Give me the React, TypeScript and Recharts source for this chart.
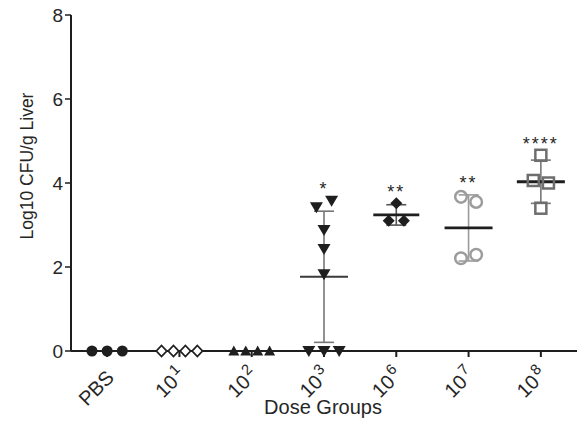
import React from 'react';
import { ComposedChart, Scatter, XAxis, YAxis, ErrorBar } from 'recharts';

const tickLabels = ['PBS', '10^1', '10^2', '10^3', '10^6', '10^7', '10^8'];
const pbsValues = [0, 0, 0];
const dose1Values = [0, 0, 0, 0];
const dose2Values = [0, 0, 0, 0];
const dose3Values = [3.42, 3.58, 2.88, 2.43, 1.83, 0, 0, 0];
const dose6Values = [3.52, 3.1, 3.1];
const dose7Values = [3.67, 3.55, 2.21, 2.29];
const dose8Values = [4.66, 4.06, 4.0, 3.4];
const significance = ['', '', '', '*', '**', '**', '****'];
const yTicks = [0, 2, 4, 6, 8];

const groups = [pbsValues, dose1Values, dose2Values, dose3Values, dose6Values, dose7Values, dose8Values];

const FONT = '"Liberation Sans", Arial, Helvetica, sans-serif';
const INK = '#1e1e1e';

// spread overlapping points horizontally (like GraphPad scatter)
function spread(values: number[]): number[] {
  const offs = new Array(values.length).fill(0);
  const used = new Array(values.length).fill(false);
  for (let i = 0; i < values.length; i++) {
    if (used[i]) continue;
    const members = [i];
    used[i] = true;
    for (let j = i + 1; j < values.length; j++) {
      if (!used[j] && Math.abs(values[j] - values[i]) < 0.3) {
        members.push(j);
        used[j] = true;
      }
    }
    const k = members.length;
    const step = k >= 4 ? 0.165 : 0.21;
    members.forEach((m, idx) => {
      offs[m] = (idx - (k - 1) / 2) * step;
    });
  }
  return offs;
}

function mean(v: number[]) {
  return v.reduce((a, b) => a + b, 0) / v.length;
}
function sd(v: number[]) {
  const m = mean(v);
  return Math.sqrt(v.reduce((a, b) => a + (b - m) * (b - m), 0) / (v.length - 1));
}

const pointData = groups.map((vals, gi) => {
  const offs = spread(vals);
  return vals.map((y, i) => ({ x: gi + offs[i], y }));
});

const summaryData = groups.map((vals, gi) => ({ x: gi, y: mean(vals), sd: sd(vals) }));

const sigData = groups
  .map((vals, gi) => ({
    x: gi,
    y: Math.max(Math.max(...vals), mean(vals) + sd(vals)) + 0.37,
    label: significance[gi],
  }))
  .filter((d) => d.label !== '');

type ShapeProps = { cx?: number; cy?: number };

const markerShapes: ((p: ShapeProps) => React.ReactElement)[] = [
  ({ cx = 0, cy = 0 }) => <circle cx={cx} cy={cy} r={5.5} fill={INK} />,
  ({ cx = 0, cy = 0 }) => (
    <polygon
      points={`${cx},${cy - 5.5} ${cx + 5.2},${cy} ${cx},${cy + 5.5} ${cx - 5.2},${cy}`}
      fill="#fff"
      stroke={INK}
      strokeWidth={1.8}
    />
  ),
  ({ cx = 0, cy = 0 }) => (
    <polygon points={`${cx},${cy - 5.5} ${cx + 5.5},${cy + 4.5} ${cx - 5.5},${cy + 4.5}`} fill={INK} />
  ),
  ({ cx = 0, cy = 0 }) => (
    <polygon points={`${cx - 6.5},${cy - 5} ${cx + 6.5},${cy - 5} ${cx},${cy + 6}`} fill={INK} />
  ),
  ({ cx = 0, cy = 0 }) => (
    <polygon
      points={`${cx},${cy - 6} ${cx + 6},${cy} ${cx},${cy + 6} ${cx - 6},${cy}`}
      fill={INK}
    />
  ),
  ({ cx = 0, cy = 0 }) => <circle cx={cx} cy={cy} r={5.8} fill="none" stroke="#9c9c9c" strokeWidth={2.5} />,
  ({ cx = 0, cy = 0 }) => (
    <rect x={cx - 5.5} y={cy - 5.5} width={11} height={11} fill="none" stroke="#6e6e6e" strokeWidth={2.5} />
  ),
];

const errColors = ['#777', '#777', '#777', '#777', '#555', '#9c9c9c', '#777'];
const meanStyles = [
  { c: INK, w: 2.5, hw: 23 },
  { c: INK, w: 2.5, hw: 23 },
  { c: INK, w: 2.5, hw: 23 },
  { c: '#3a3a3a', w: 1.8, hw: 24 },
  { c: INK, w: 2.8, hw: 23 },
  { c: INK, w: 2.8, hw: 24 },
  { c: INK, w: 2.8, hw: 24 },
];

const XTick = (props: any) => {
  const { x, y, payload } = props;
  const label: string = tickLabels[payload.value] ?? '';
  if (label.includes('^')) {
    const [base, exp] = label.split('^');
    return (
      <g transform={`translate(${x - 13},${y + 27}) rotate(-45)`}>
        <text x={0} y={0} dy="0.35em" textAnchor="middle" fontSize={20} fill="#262626" fontFamily={FONT}>
          {base}
        </text>
        <text x={13} y={-1} textAnchor="start" fontSize={15} fill="#262626" fontFamily={FONT}>
          {exp}
        </text>
      </g>
    );
  }
  return (
    <g transform={`translate(${x - 11},${y + 29}) rotate(-45)`}>
      <text x={0} y={0} dy="0.35em" textAnchor="middle" fontSize={20} fill="#262626" fontFamily={FONT}>
        {label}
      </text>
    </g>
  );
};

const YLabel = (props: any) => {
  const vb = props.viewBox || { x: 0, y: 15, width: 71, height: 336 };
  const cx = vb.x + 27;
  const cy = vb.y + vb.height / 2 - 17;
  return (
    <text
      transform={`translate(${cx},${cy}) rotate(-90)`}
      textAnchor="middle"
      dominantBaseline="central"
      fontSize={17.5}
      fill="#262626"
      fontFamily={FONT}
    >
      Log10 CFU/g Liver
    </text>
  );
};

const XLabel = (props: any) => {
  const vb = props.viewBox || { x: 71, y: 351, width: 506, height: 75 };
  return (
    <text x={vb.x + vb.width / 2 - 1} y={vb.y + 63} textAnchor="middle" fontSize={20} fill="#262626" fontFamily={FONT}>
      Dose Groups
    </text>
  );
};

export default function App() {
  return (
    <div style={{ position: 'absolute', left: 0, top: 0, background: '#fff' }}>
      <ComposedChart width={587} height={426} margin={{ top: 15, right: 10, bottom: 0, left: 0 }}>
        <XAxis
          type="number"
          dataKey="x"
          domain={[-0.5, 6.5]}
          ticks={[0, 1, 2, 3, 4, 5, 6]}
          interval={0}
          height={75}
          axisLine={{ stroke: INK, strokeWidth: 2 }}
          tickLine={{ stroke: INK, strokeWidth: 2 }}
          tickSize={6}
          tick={<XTick />}
          label={XLabel}
        />
        <YAxis
          type="number"
          dataKey="y"
          domain={[0, 8]}
          ticks={yTicks}
          width={71}
          axisLine={{ stroke: INK, strokeWidth: 2 }}
          tickLine={{ stroke: INK, strokeWidth: 1.5 }}
          tickSize={6}
          tick={{ fontSize: 19, fill: '#262626', fontFamily: FONT }}
          label={YLabel}
        />
        {summaryData.map((s, gi) =>
          s.y > 0 ? (
            <Scatter
              key={`sum-${gi}`}
              data={[s]}
              isAnimationActive={false}
              shape={(p: any) => (
                <line
                  x1={p.cx - meanStyles[gi].hw}
                  x2={p.cx + meanStyles[gi].hw}
                  y1={p.cy}
                  y2={p.cy}
                  stroke={meanStyles[gi].c}
                  strokeWidth={meanStyles[gi].w}
                />
              )}
            >
              <ErrorBar dataKey="sd" direction="y" width={10} stroke={errColors[gi]} strokeWidth={1.6} />
            </Scatter>
          ) : null
        )}
        {pointData.map((pts, gi) => (
          <Scatter key={`pts-${gi}`} data={pts} isAnimationActive={false} shape={markerShapes[gi]} />
        ))}
        <Scatter
          data={sigData}
          isAnimationActive={false}
          shape={(p: any) => (
            <text
              x={p.cx}
              y={p.cy + 10}
              textAnchor="middle"
              fontSize={18}
              letterSpacing={2}
              fill="#262626"
              fontFamily={FONT}
            >
              {p.payload.label}
            </text>
          )}
        />
      </ComposedChart>
    </div>
  );
}
